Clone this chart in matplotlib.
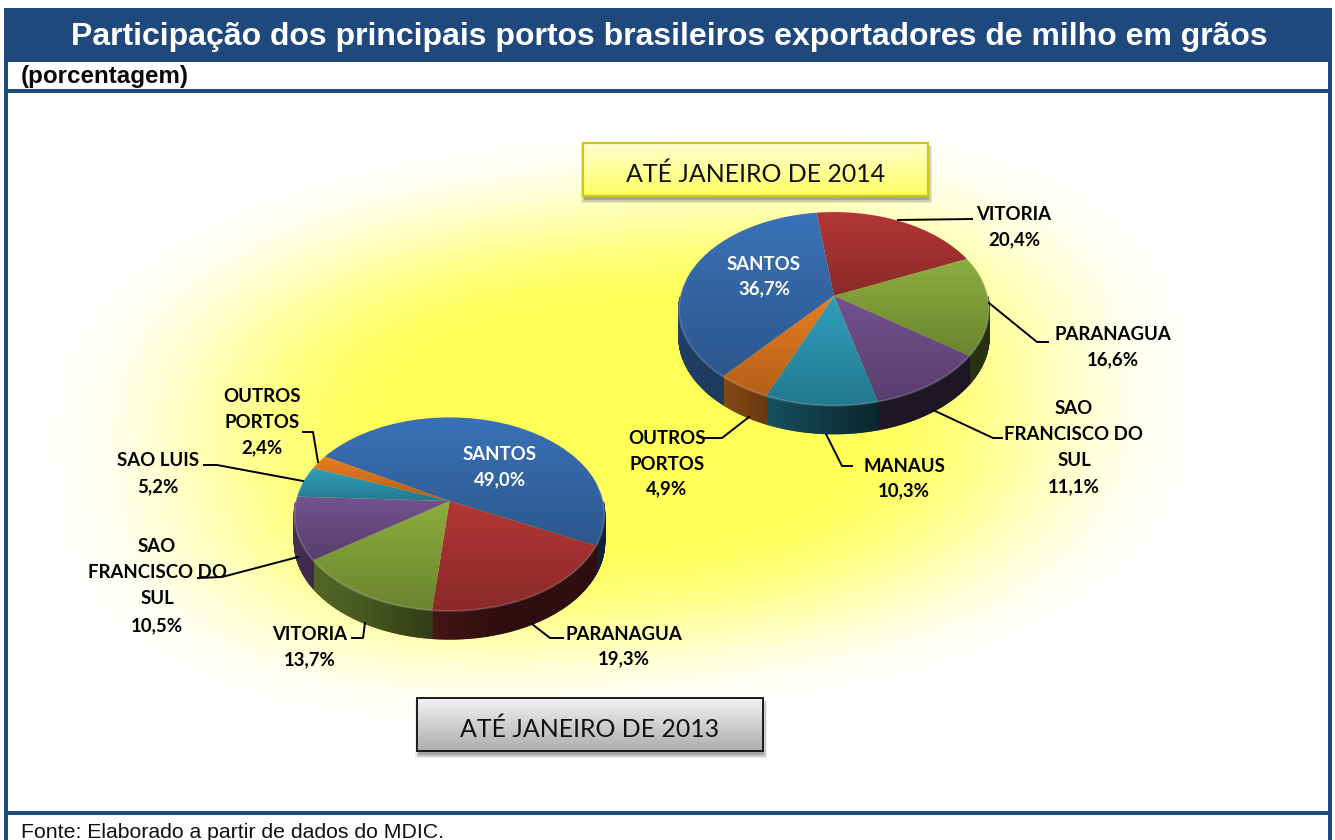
import numpy as np
import matplotlib
matplotlib.use("Agg")
import matplotlib.pyplot as plt
from matplotlib.collections import PolyCollection
from matplotlib.colors import to_rgb
from matplotlib.patches import Rectangle
from matplotlib.transforms import Transform

# ---------- data ----------
title = "Participação dos principais portos brasileiros exportadores de milho em grãos"
subtitle = "(porcentagem)"
source = "Fonte: Elaborado a partir de dados do MDIC."
box_2014 = "ATÉ JANEIRO DE 2014"
box_2013 = "ATÉ JANEIRO DE 2013"

ports_2014 = ["VITORIA", "PARANAGUA", "SAO FRANCISCO DO SUL", "MANAUS", "OUTROS PORTOS", "SANTOS"]
share_2014 = [20.4, 16.6, 11.1, 10.3, 4.9, 36.7]
ports_2013 = ["SANTOS", "PARANAGUA", "VITORIA", "SAO FRANCISCO DO SUL", "SAO LUIS", "OUTROS PORTOS"]
share_2013 = [49.0, 19.3, 13.7, 10.5, 5.2, 2.4]

BLUE, RED, GREEN, PURPLE, TEAL, ORANGE = "#3a72b8", "#b43636", "#8cae3e", "#73528f", "#2f9fbc", "#ea7d22"
colors_2014 = [RED, GREEN, PURPLE, TEAL, ORANGE, BLUE]
colors_2013 = [BLUE, RED, GREEN, PURPLE, TEAL, ORANGE]

# ---------- style ----------
NAVY = "#1f497d"
LABEL_FONT = "Lato"
ARIAL = "Liberation Sans"
W, H = 1335, 840

fig = plt.figure(figsize=(W / 100, H / 100), dpi=100, facecolor="white")
ax = fig.add_axes([0, 0, 1, 1])
ax.axis("off")


class Tilt(Transform):
    """Perspective view of the unit-circle pie, in pixel coordinates."""
    input_dims = output_dims = 2
    is_separable = False
    has_inverse = False

    def __init__(self, cx, cy, rx=153.6, ry=95.0, k=0.136):
        super().__init__()
        self.cx, self.cy, self.rx, self.ry, self.k = cx, cy, rx, ry, k

    def transform_non_affine(self, xy):
        xy = np.asarray(xy, float)
        w = 1 + self.k * xy[:, 1]
        return np.column_stack((self.cx + self.rx * xy[:, 0] / w,
                                self.cy - self.ry * xy[:, 1] / w))


def side_shade(x):
    return np.interp(x, [-1, -0.5, 0, 0.3, 1], [0.62, 0.55, 0.36, 0.26, 0.30])


def draw_pie(values, colors, start, cx, cy, depth=28):
    tilt = Tilt(cx, cy)
    wedges, _ = ax.pie(values, colors=colors, startangle=start, counterclock=False,
                       wedgeprops=dict(linewidth=0))
    # side wall
    polys, faces = [], []
    for wd, col in zip(wedges, colors):
        rgb = np.array(to_rgb(col))
        th = np.radians(np.arange(wd.theta1, wd.theta2, 0.5))
        th = np.append(th, np.radians(wd.theta2))
        pts = tilt.transform(np.column_stack((np.cos(th), np.sin(th))))
        for i in range(len(th) - 1):
            if np.sin(th[i]) > -0.02 and np.sin(th[i + 1]) > -0.02:
                continue
            a, b = pts[i], pts[i + 1]
            polys.append([a, b, b + [0, depth], a + [0, depth]])
            frac = i / max(len(th) - 2, 1)
            faces.append(rgb * side_shade(np.cos(th[i])) * (1.0 - 0.12 * frac))
    ax.add_collection(PolyCollection(polys, facecolors=faces, edgecolors=faces,
                                     linewidths=1.0, zorder=3, transform=ax.transData))
    # top face with a light-to-dark vertical shading
    shade = np.zeros((64, 1, 4))
    shade[:, 0, 3] = np.linspace(0.0, 0.24, 64)
    for wd in wedges:
        wd.set_transform(tilt + ax.transData)
        wd.set_zorder(4)
        v = tilt.transform(wd.get_path().vertices)
        im = ax.imshow(shade, extent=(v[:, 0].min(), v[:, 0].max(), v[:, 1].max(), v[:, 1].min()),
                       aspect="auto", zorder=4.1, interpolation="bilinear")
        im.set_clip_path(wd)
    # bevel of the rim
    t = np.radians(np.linspace(170, 370, 200))
    ax.plot(np.cos(t), np.sin(t), color="white", alpha=0.17, lw=1.5, zorder=4.2,
            transform=tilt + ax.transData, solid_capstyle="round")
    return wedges


# ---------- background glow ----------
gx, gy = np.meshgrid(np.linspace(8, 1328, 330), np.linspace(93, 811, 180))
ang = np.radians(5)
dx, dy = gx - 622, gy - 425
a_ = dx * np.cos(ang) - dy * np.sin(ang)
b_ = dx * np.sin(ang) + dy * np.cos(ang)
r = (np.abs(a_ / 590) ** 2.5 + np.abs(b_ / 300) ** 2.5) ** (1 / 2.5)
g = np.clip((1 - r) / 0.62, 0, 1)
g = g * g * (3 - 2 * g)
glow = np.ones(gx.shape + (3,))
glow[..., 2] = 1 - g * (1 - 0x58 / 255)
ax.imshow(glow, extent=(8, 1328, 811, 93), aspect="auto", zorder=0, interpolation="bilinear")

# ---------- frame ----------
for (x0, y0, x1, y1) in [(4, 8, 1332, 62), (4, 8, 8, 840), (1328, 8, 1332, 840),
                         (4, 89, 1332, 93), (4, 811, 1332, 815)]:
    ax.add_patch(Rectangle((x0, y0), x1 - x0, y1 - y0, fc=NAVY, ec="none", zorder=5))
ax.text(669, 45, title, color="white", fontsize=23.05, fontweight="bold", family=ARIAL,
        ha="center", va="baseline", zorder=8)
ax.text(21, 76, subtitle, color="#0a0a0a", fontsize=17.4, fontweight="bold", family=ARIAL,
        ha="left", va="center", zorder=8)
ax.text(21, 838, source, color="#111111", fontsize=15.33, family=ARIAL,
        ha="left", va="baseline", zorder=8)


# ---------- pies ----------
draw_pie(share_2014, colors_2014, 97.5, 834, 295.7)
draw_pie(share_2013, colors_2013, 150, 449.5, 501)


# ---------- captions ----------
def caption(x0, y0, x1, y1, text, top, bottom, edge, lw):
    for grow, alpha in [(3, 0.10), (1.5, 0.18), (0, 0.28)]:
        ax.add_patch(Rectangle((x0 - grow + 1, y0 + 3), x1 - x0 + 2 * grow, y1 - y0 + grow + 1,
                               fc="#444444", alpha=alpha, ec="none", zorder=5))
    grad = np.linspace(np.array(to_rgb(top)), np.array(to_rgb(bottom)), 64)[:, None, :]
    ax.imshow(grad, extent=(x0, x1, y1, y0), aspect="auto", zorder=5.2, interpolation="bilinear")
    ax.add_patch(Rectangle((x0, y0), x1 - x0, y1 - y0, fc="none", ec=edge, lw=lw, zorder=5.3))
    ax.text((x0 + x1) / 2, (y0 + y1) / 2 + 5, text, fontsize=17.9, family=LABEL_FONT, color="#111111",
            ha="center", va="center", zorder=8)


caption(583, 143, 928, 196, box_2014, "#ffffd0", "#ffff60", "#c9c91a", 1.6)
caption(417, 698, 763, 751, box_2013, "#f2f2f2", "#aeaeae", "#1a1a1a", 1.4)

# ---------- labels ----------
labels_2014 = [
    (1014, [214, 239], ["VITORIA", f"{share_2014[0]:.1f}%"], "black"),
    (1113, [334, 359], ["PARANAGUA", f"{share_2014[1]:.1f}%"], "black"),
    (1074, [408, 434, 460, 486], ["SAO", "FRANCISCO DO", "SUL", f"{share_2014[2]:.1f}%"], "black"),
    (904, [465, 490], ["MANAUS", f"{share_2014[3]:.1f}%"], "black"),
    (667, [437, 463, 488], ["OUTROS", "PORTOS", f"{share_2014[4]:.1f}%"], "black"),
    (764, [263, 288], ["SANTOS", f"{share_2014[5]:.1f}%"], "white"),
]
labels_2013 = [
    (500, [454, 479], ["SANTOS", f"{share_2013[0]:.1f}%"], "white"),
    (624, [633, 658], ["PARANAGUA", f"{share_2013[1]:.1f}%"], "black"),
    (310, [633, 659], ["VITORIA", f"{share_2013[2]:.1f}%"], "black"),
    (157, [546, 572, 598, 625], ["SAO", "FRANCISCO DO", "SUL", f"{share_2013[3]:.1f}%"], "black"),
    (158, [460, 486], ["SAO LUIS", f"{share_2013[4]:.1f}%"], "black"),
    (262, [395, 421, 447], ["OUTROS", "PORTOS", f"{share_2013[5]:.1f}%"], "black"),
]
for x, ys, lines, col in labels_2014 + labels_2013:
    for y, line in zip(ys, lines):
        ax.text(x, y + 6.5, line.replace(".", ","), color=col, fontsize=13.4, fontweight="bold",
                family=LABEL_FONT, ha="center", va="baseline", zorder=8)

leaders = [
    [(898, 220), (972, 219)],
    [(989, 303), (1037, 342), (1048, 342)],
    [(933, 410), (993, 438), (1002, 438)],
    [(826, 434), (842, 466), (852, 466)],
    [(749, 417), (722, 438), (705, 438)],
    [(532, 624), (550, 638), (563, 638)],
    [(365, 623), (363, 638), (352, 638)],
    [(298, 557), (222, 577), (198, 578)],
    [(303, 481), (217, 465), (204, 465)],
    [(318, 462), (313, 432), (303, 432)],
]
for seg in leaders:
    xs, ys = zip(*seg)
    ax.plot(xs, ys, color="black", lw=1.4, zorder=7)

ax.set_aspect("auto")
ax.set_xlim(0, W)
ax.set_ylim(H, 0)
fig.savefig("out.png", dpi=100, facecolor="white")
